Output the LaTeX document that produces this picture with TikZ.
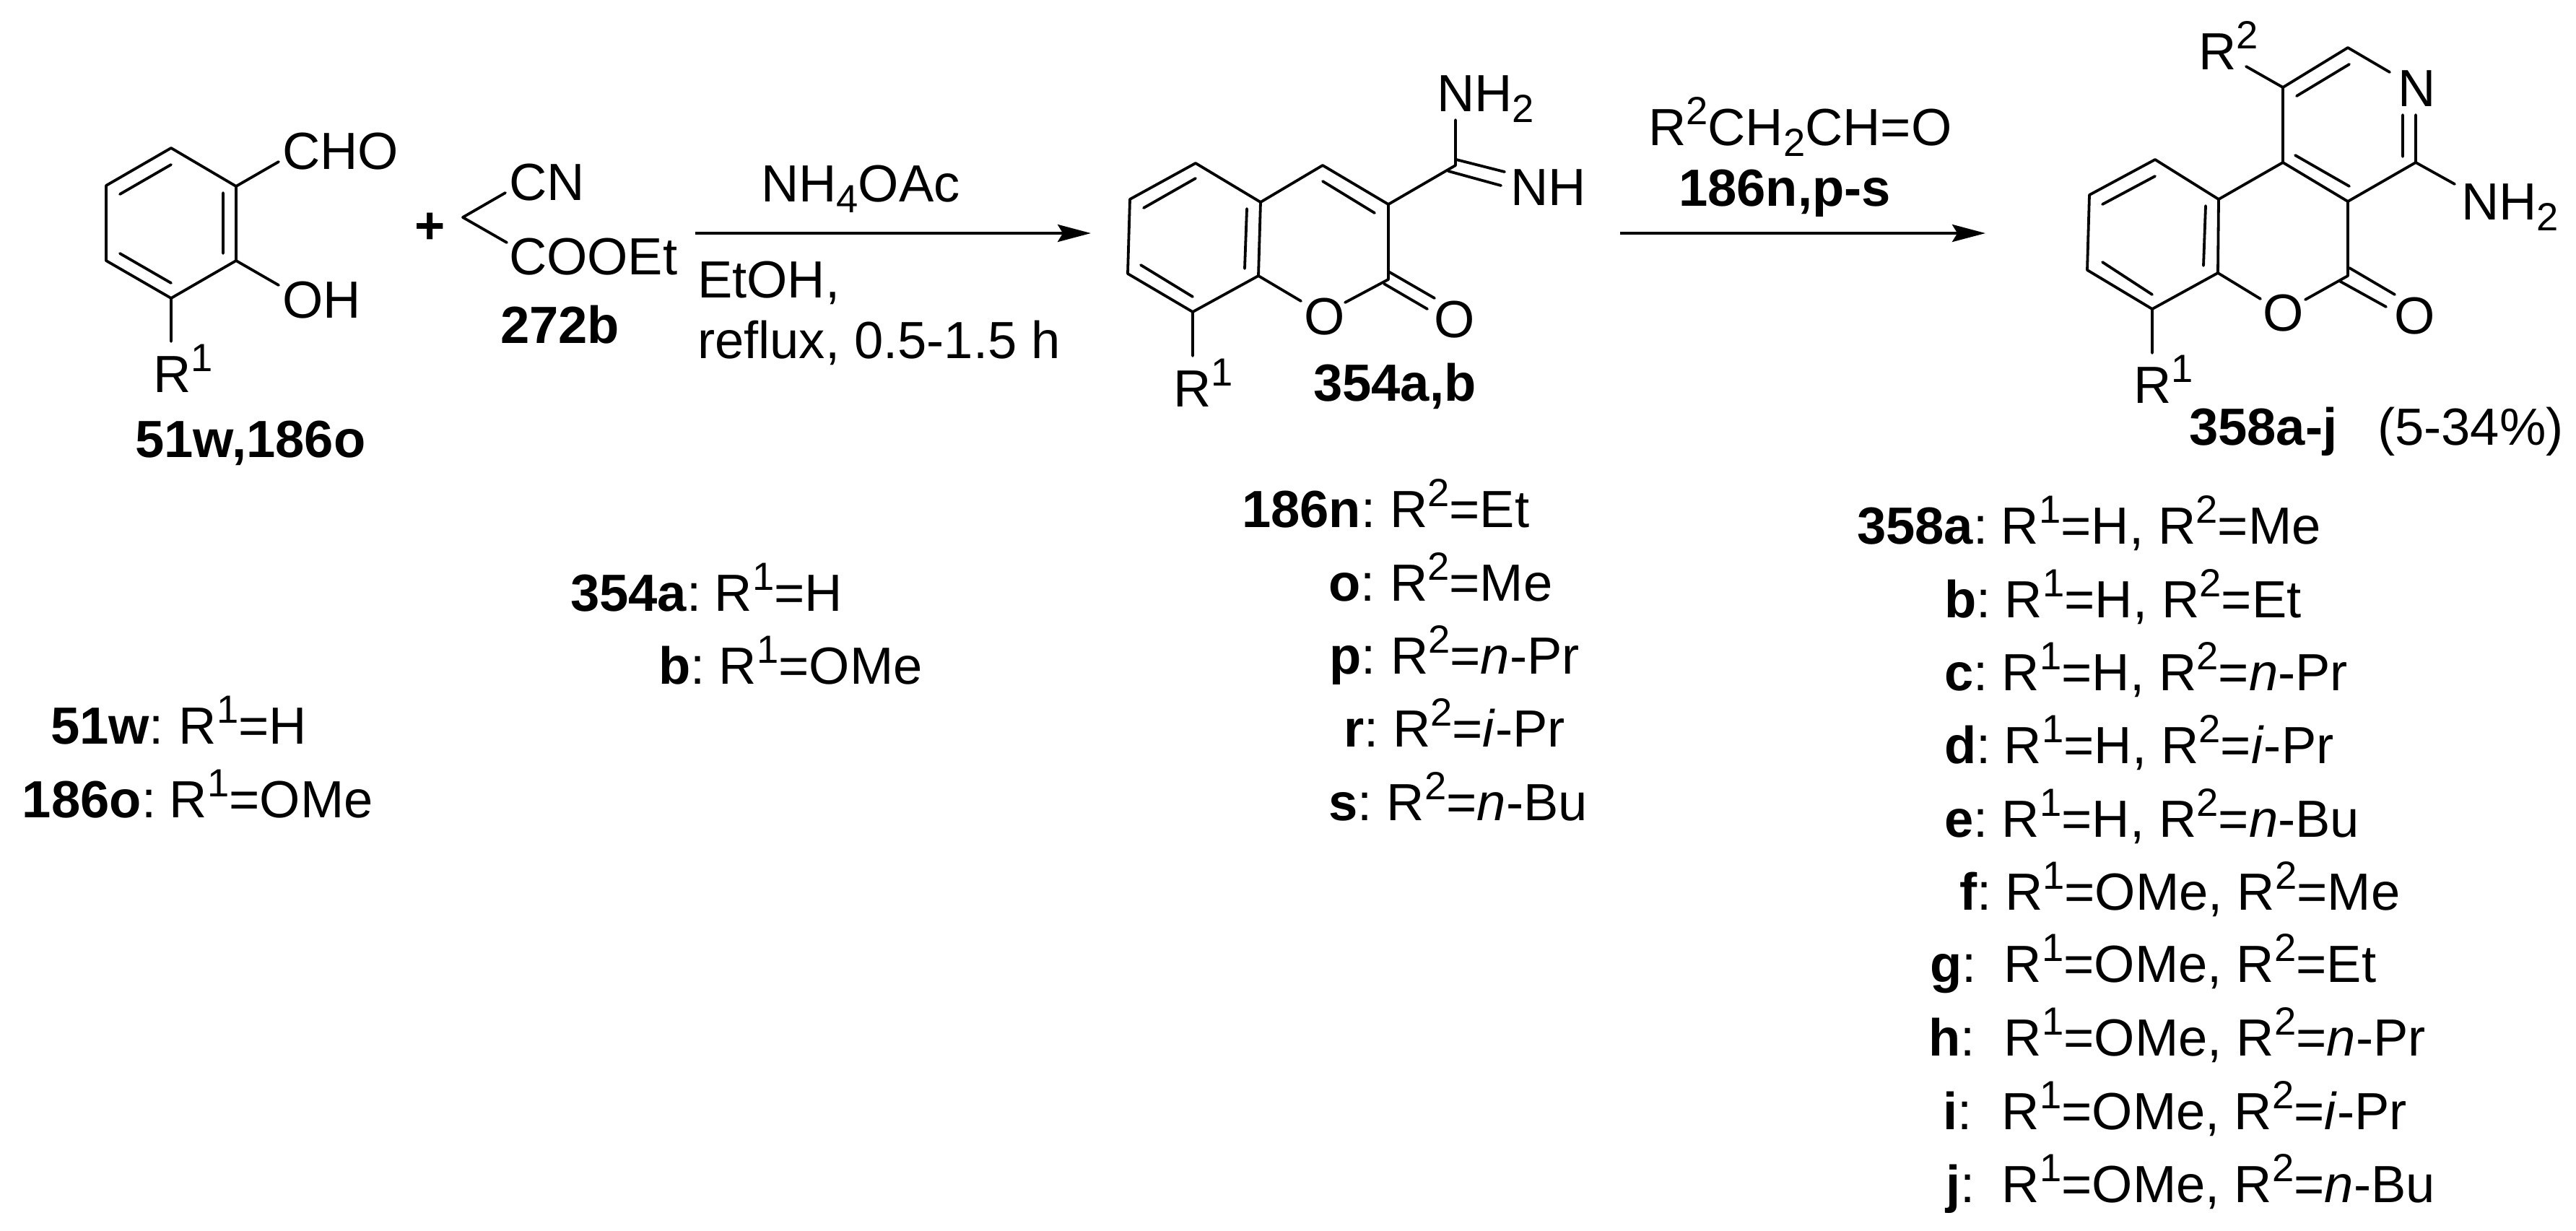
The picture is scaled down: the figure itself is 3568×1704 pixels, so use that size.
\documentclass[tikz,border=0pt]{standalone}
\usepackage{fontspec}
\setmainfont{Liberation Sans}
\usetikzlibrary{arrows.meta}
\newcommand{\Sup}[1]{\raisebox{0.40em}{\fontsize{13.6}{14}\selectfont #1}}
\newcommand{\Sub}[1]{\raisebox{-0.21em}{\fontsize{13.6}{14}\selectfont #1}}
\newcommand{\RA}{R\Sup{1}}
\newcommand{\RB}{R\Sup{2}}
\newcommand{\lst}[6]{\node[txt] (#1) at (#2,#3) {\makebox[\dimexpr 0.25pt*\numexpr#4-#2\relax\relax][l]{\textbf{#5}:}#6};}
\tikzset{
  txt/.style={anchor=base west,inner sep=0pt,outer sep=0pt,font=\fontsize{18.1}{20}\selectfont},
  bond/.style={line width=0.95pt,line cap=round,line join=round},
  rxn/.style={line width=1pt,-{Stealth[length=11.5pt,width=6pt,inset=1.8pt]}}
}
\begin{document}
\begin{tikzpicture}[x=0.25pt,y=-0.25pt]
\useasboundingbox (0,0) rectangle (3568,1704);
% ---- salicylaldehyde
\coordinate (a1) at (237,205);
\coordinate (a2) at (327,258);
\coordinate (a3) at (327,361);
\coordinate (a4) at (237,413);
\coordinate (a5) at (147,361);
\coordinate (a6) at (147,257);
\coordinate (aCHO) at (386,224);
\coordinate (aOH) at (386,395);
\coordinate (aR) at (237,473);
\coordinate (ai1) at (237,228);
\coordinate (ai2) at (166,269);
\coordinate (ai3) at (309,267);
\coordinate (ai4) at (309,351);
\coordinate (ai5) at (166,351);
\coordinate (ai6) at (237,392);
\draw[bond] (a1)--(a2)--(a3)--(a4)--(a5)--(a6)--cycle;
\draw[bond] (a2)--(aCHO) (a3)--(aOH) (a4)--(aR);
\draw[bond] (ai1)--(ai2) (ai3)--(ai4) (ai5)--(ai6);
\node[txt] (tCHO) at (391,234) {CHO};
\node[txt] (tOH) at (391,440) {OH};
\node[txt] (tR1a) at (212,543) {\RA};
\node[txt] (t51) at (187,633) {\textbf{51w,186o}};
\node[txt,anchor=base,font=\fontsize{18.1}{20}\selectfont\bfseries] (tplus) at (596,337) {+};
% ---- cyanoacetate
\coordinate (m0) at (641,301);
\coordinate (m1) at (700,267);
\coordinate (m2) at (702,336);
\draw[bond] (m1)--(m0)--(m2);
\node[txt] (tCN) at (705,277) {CN};
\node[txt] (tCOOEt) at (705,380) {COOEt};
\node[txt] (t272) at (693,475) {\textbf{272b}};
% ---- arrow 1
\coordinate (r1s) at (963,323);
\coordinate (r1e) at (1511,323);
\draw[rxn] (r1s)--(r1e);
\node[txt] (tNH4) at (1054,279) {NH\Sub{4}OAc};
\node[txt] (tEtOH) at (966,412) {EtOH,};
\node[txt] (tRefl) at (966,496) {reflux, 0.5-1.5 h};
% ---- coumarin 354
\coordinate (b1) at (1656,226);
\coordinate (b2) at (1746,280);
\coordinate (b3) at (1743,382);
\coordinate (b4) at (1652,432);
\coordinate (b5) at (1562,379);
\coordinate (b6) at (1565,276);
\coordinate (b7) at (1832,229);
\coordinate (b8) at (1923,283);
\coordinate (b9) at (1923,387);
\coordinate (bOl) at (1802,417);
\coordinate (bOr) at (1863,419);
\coordinate (bR) at (1652,493);
\coordinate (bi1) at (1656,247);
\coordinate (bi2) at (1584,288);
\coordinate (bi3) at (1727,289);
\coordinate (bi4) at (1724,372);
\coordinate (bi5) at (1580,367);
\coordinate (bi6) at (1652,411);
\coordinate (bi7) at (1832,251);
\coordinate (bi8) at (1904,295);
\coordinate (bC) at (2016,229);
\coordinate (bNH2) at (2016,166);
\coordinate (bd1a) at (2017,221);
\coordinate (bd1b) at (2084,238);
\coordinate (bd2a) at (2006,237);
\coordinate (bd2b) at (2079,257);
\coordinate (bo1a) at (1923,376);
\coordinate (bo1b) at (1987,413);
\coordinate (bo2a) at (1917,393);
\coordinate (bo2b) at (1977,428);
\draw[bond] (b1)--(b2)--(b3)--(b4)--(b5)--(b6)--cycle;
\draw[bond] (b2)--(b7)--(b8)--(b9)--(bOr) (b3)--(bOl) (b4)--(bR);
\draw[bond] (b8)--(bC)--(bNH2);
\draw[bond] (bi1)--(bi2) (bi3)--(bi4) (bi5)--(bi6) (bi7)--(bi8);
\draw[bond] (bd1a)--(bd1b) (bd2a)--(bd2b) (bo1a)--(bo1b) (bo2a)--(bo2b);
\node[txt] (tNH2b) at (1990,154) {NH\Sub{2}};
\node[txt] (tNHb) at (2092,284) {NH};
\node[txt] (tOb1) at (1806,463) {O};
\node[txt] (tOb2) at (1986,467) {O};
\node[txt] (tR1b) at (1625,563) {\RA};
\node[txt] (t354) at (1819,555) {\textbf{354a,b}};
% ---- arrow 2
\coordinate (r2s) at (2244,323);
\coordinate (r2e) at (2750,323);
\draw[rxn] (r2s)--(r2e);
\node[txt] (tAld) at (2283,201) {\RB CH\Sub{2}CH=O};
\node[txt] (t186) at (2325,285) {\textbf{186n,p-s}};
% ---- tricycle 358
\coordinate (c1) at (2985,221);
\coordinate (c2) at (3073,276);
\coordinate (c3) at (3072,378);
\coordinate (c4) at (2981,428);
\coordinate (c5) at (2891,374);
\coordinate (c6) at (2894,270);
\coordinate (c7) at (3162,225);
\coordinate (c8) at (3252,279);
\coordinate (c9) at (3252,382);
\coordinate (cOl) at (3131,414);
\coordinate (cOr) at (3193,415);
\coordinate (c10) at (3162,121);
\coordinate (c11) at (3252,66);
\coordinate (cNa) at (3310,100);
\coordinate (c12) at (3346,225);
\coordinate (cN1) at (3346,159);
\coordinate (cN2) at (3328,159);
\coordinate (cN3) at (3328,217);
\coordinate (cNH2) at (3400,255);
\coordinate (cR1) at (2981,489);
\coordinate (cR2) at (3111,92);
\coordinate (ci1) at (3254,89);
\coordinate (ci2) at (3181,133);
\coordinate (ci3) at (3179,215);
\coordinate (ci4) at (3254,258);
\coordinate (ci5) at (3055,285);
\coordinate (ci6) at (3052,368);
\coordinate (ci7) at (2985,244);
\coordinate (ci8) at (2912,283);
\coordinate (ci9) at (2912,363);
\coordinate (ci10) at (2981,408);
\coordinate (co1a) at (3254,371);
\coordinate (co1b) at (3317,408);
\coordinate (co2a) at (3240,389);
\coordinate (co2b) at (3305,425);
\draw[bond] (c1)--(c2)--(c3)--(c4)--(c5)--(c6)--cycle;
\draw[bond] (c2)--(c7)--(c8)--(c9)--(cOr) (c3)--(cOl) (c4)--(cR1);
\draw[bond] (c7)--(c10)--(c11)--(cNa) (c10)--(cR2);
\draw[bond] (c8)--(c12)--(cN1) (c12)--(cNH2) (cN2)--(cN3);
\draw[bond] (ci1)--(ci2) (ci3)--(ci4) (ci5)--(ci6) (ci7)--(ci8) (ci9)--(ci10);
\draw[bond] (co1a)--(co1b) (co2a)--(co2b);
\node[txt] (tR2c) at (3045,96) {\RB};
\node[txt] (tNc) at (3321,147) {N};
\node[txt] (tNH2c) at (3409,304) {NH\Sub{2}};
\node[txt] (tOc1) at (3134,458) {O};
\node[txt] (tOc2) at (3316,462) {O};
\node[txt] (tR1c) at (2955,558) {\RA};
\node[txt] (t358) at (3032,616) {\textbf{358a-j}};
\node[txt] (tYield) at (3293,616) {(5-34\%)};
% ---- lists
\lst{l51}{70}{1030}{248}{51w}{\RA=H}
\lst{l186o}{31}{1132}{235}{186o}{\RA=OMe}
\lst{l354}{790}{846}{990}{354a}{\RA=H}
\lst{l354b}{912}{947}{996}{b}{\RA=OMe}
\lst{n186}{1720}{730}{1925}{186n}{\RB=Et}
\lst{n186o}{1840}{832}{1925}{o}{\RB=Me}
\lst{n186p}{1841}{933}{1926}{p}{\RB=\textit{n}-Pr}
\lst{n186r}{1861}{1034}{1929}{r}{\RB=\textit{i}-Pr}
\lst{n186s}{1840}{1136}{1921}{s}{\RB=\textit{n}-Bu}
\lst{q358a}{2572}{753}{2772}{358a}{\RA=H, \RB=Me}
\lst{q358b}{2693}{855}{2777}{b}{\RA=H, \RB=Et}
\lst{q358c}{2693}{956}{2773}{c}{\RA=H, \RB=\textit{n}-Pr}
\lst{q358d}{2693}{1057}{2776}{d}{\RA=H, \RB=\textit{i}-Pr}
\lst{q358e}{2693}{1159}{2773}{e}{\RA=H, \RB=\textit{n}-Bu}
\lst{q358f}{2714}{1260}{2777}{f}{\RA=OMe, \RB=Me}
\lst{q358g}{2673}{1360}{2776}{g}{\RA=OMe, \RB=Et}
\lst{q358h}{2671}{1462}{2776}{h}{\RA=OMe, \RB=\textit{n}-Pr}
\lst{q358i}{2691}{1564}{2773}{i}{\RA=OMe, \RB=\textit{i}-Pr}
\lst{q358j}{2695}{1665}{2773}{j}{\RA=OMe, \RB=\textit{n}-Bu}
\end{tikzpicture}
\end{document}
